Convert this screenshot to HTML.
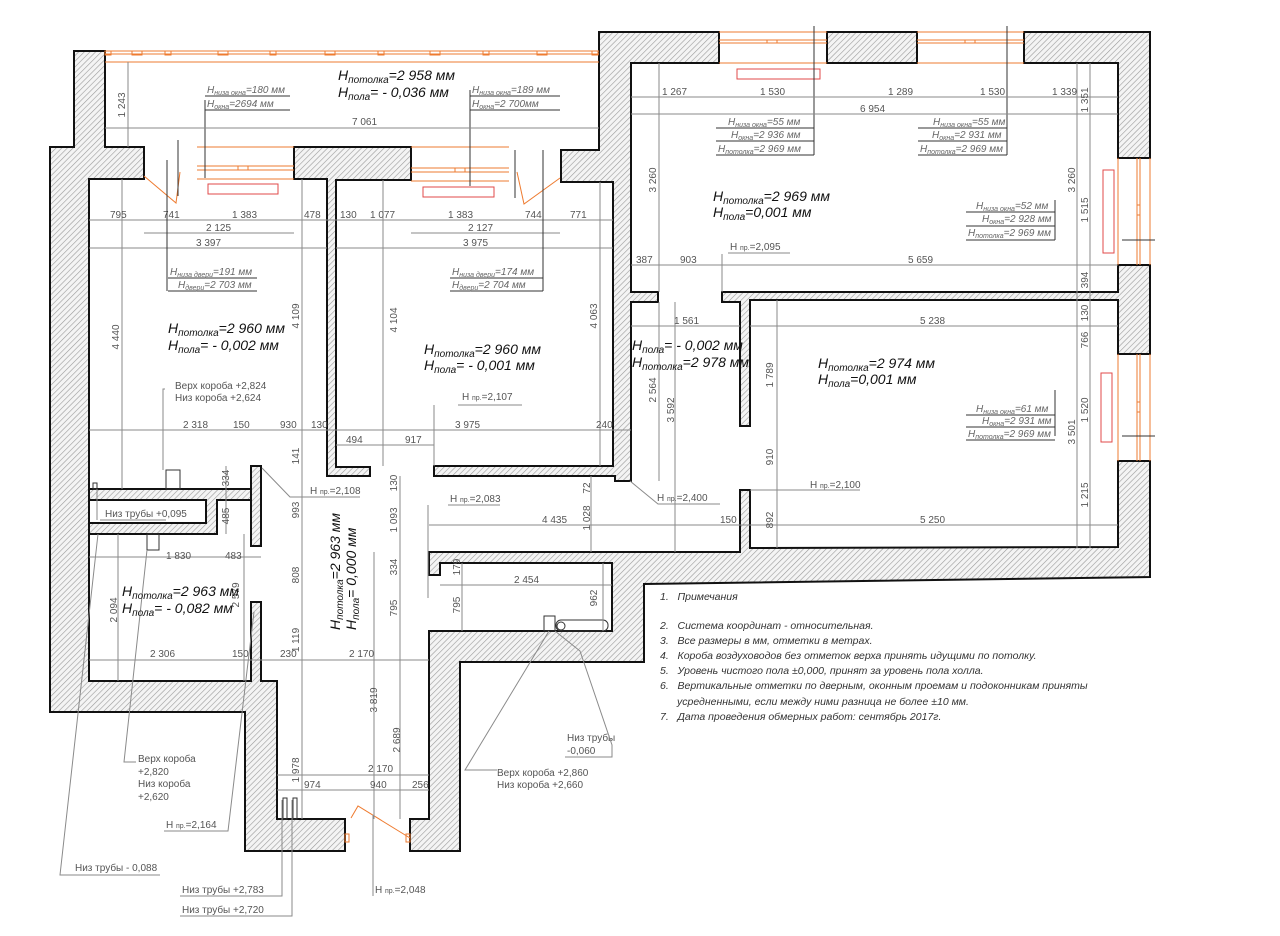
<!DOCTYPE html>
<html><head><meta charset="utf-8"><style>
html,body{margin:0;padding:0;background:#fff;}
svg{display:block;font-family:"Liberation Sans",sans-serif;}
.w{fill:url(#h);stroke:#111;stroke-width:2;stroke-linejoin:miter}
.d{stroke:#8a8a8a;stroke-width:1;fill:none}
.t{font-size:10px;fill:#555}
.l{font-size:10px;fill:#666;font-style:italic}
.b{font-size:14px;fill:#111;font-style:italic}
.o{stroke:#ee7b30;stroke-width:1;fill:none}
.r{stroke:#e04a4a;stroke-width:1;fill:none}
.k{stroke:#333;stroke-width:1;fill:none}
.n{font-size:10.5px;fill:#333;font-style:italic}
</style></head><body>
<svg width="1280" height="936" viewBox="0 0 1280 936" xmlns="http://www.w3.org/2000/svg">
<defs><pattern id="h" width="4" height="4" patternUnits="userSpaceOnUse" patternTransform="rotate(45)"><rect width="4" height="4" fill="#f4f4f4"/><line x1="0" y1="0" x2="0" y2="4" stroke="#9a9a9a" stroke-width="1.2"/></pattern></defs>

<polygon class="w" points="74,51 105,51 105,147 144,147 144,179 89,179 89,681 251,681 251,602 261,602 261,681 277,681 277,819 345,819 345,851 245,851 245,712 50,712 50,147 74,147"/>
<polygon class="w" points="89,489 251,489 251,500 217,500 217,534 89,534 89,523 206,523 206,500 89,500"/>
<rect class="w" x="251" y="466" width="10" height="80"/>
<polygon class="w" points="294,147 411,147 411,180 336,180 336,467 370,467 370,476 327,476 327,179 294,179"/>
<polygon class="w" points="561,150 599,150 599,32 719,32 719,63 631,63 631,292 658,292 658,302 631,302 631,481 615,481 615,476 434,476 434,466 613,466 613,182 561,182"/>
<rect class="w" x="827" y="32" width="90" height="31"/>
<polygon class="w" points="1024,32 1150,32 1150,158 1118,158 1118,63 1024,63"/>
<polygon class="w" points="722,292 1118,292 1118,265 1150,265 1150,354 1118,354 1118,300 750,300 750,426 740,426 740,302 722,302"/>
<polygon class="w" points="1150,461 1150,577 644,584 644,662 460,662 460,851 410,851 410,819 429,819 429,631 612,631 612,563 440,563 440,575 429,575 429,552 740,552 740,490 750,490 750,548 1118,547 1118,461"/>

<g class="o">
<line x1="105" y1="51" x2="599" y2="51"/><line x1="105" y1="54" x2="599" y2="54"/><line x1="105" y1="62" x2="599" y2="62"/>
<rect x="105" y="51" width="6" height="4"/><rect x="132" y="51" width="10" height="4"/><rect x="165" y="51" width="6" height="4"/><rect x="218" y="51" width="10" height="4"/><rect x="270" y="51" width="6" height="4"/><rect x="325" y="51" width="10" height="4"/><rect x="378" y="51" width="6" height="4"/><rect x="430" y="51" width="10" height="4"/><rect x="483" y="51" width="6" height="4"/><rect x="537" y="51" width="10" height="4"/><rect x="592" y="51" width="6" height="4"/>
<line x1="197" y1="147" x2="294" y2="147"/><line x1="197" y1="166" x2="294" y2="166"/><line x1="197" y1="170" x2="294" y2="170"/><line x1="197" y1="179" x2="294" y2="179"/><rect x="238" y="166" width="10" height="4"/>
<line x1="411" y1="147" x2="509" y2="147"/><line x1="411" y1="168" x2="509" y2="168"/><line x1="411" y1="172" x2="509" y2="172"/><line x1="411" y1="181" x2="509" y2="181"/><rect x="455" y="168" width="10" height="4"/>
<line x1="719" y1="32" x2="827" y2="32"/><line x1="719" y1="40" x2="827" y2="40"/><line x1="719" y1="43" x2="827" y2="43"/><line x1="719" y1="63" x2="827" y2="63"/><rect x="767" y="40" width="10" height="3"/>
<line x1="917" y1="32" x2="1024" y2="32"/><line x1="917" y1="40" x2="1024" y2="40"/><line x1="917" y1="43" x2="1024" y2="43"/><line x1="917" y1="63" x2="1024" y2="63"/><rect x="965" y="40" width="10" height="3"/>
<line x1="1118" y1="158" x2="1118" y2="265"/><line x1="1137" y1="158" x2="1137" y2="265"/><line x1="1140" y1="158" x2="1140" y2="265"/><line x1="1150" y1="158" x2="1150" y2="265"/><rect x="1137" y="205" width="3" height="10"/>
<line x1="1118" y1="354" x2="1118" y2="461"/><line x1="1137" y1="354" x2="1137" y2="461"/><line x1="1140" y1="354" x2="1140" y2="461"/><line x1="1150" y1="354" x2="1150" y2="461"/><rect x="1137" y="402" width="3" height="10"/>
<polyline points="144,176 176,203 180,172"/><polyline points="560,178 524,204 517,172"/>
<polyline points="351,818 358,806 410,838"/><rect x="345" y="834" width="4" height="8"/><rect x="406" y="834" width="4" height="8"/>
</g>
<g class="r"><rect x="208" y="184" width="70" height="10"/><rect x="423" y="187" width="71" height="10"/><rect x="737" y="69" width="83" height="10"/><rect x="1103" y="170" width="11" height="83"/><rect x="1101" y="373" width="11" height="69"/></g>

<g class="k"><rect x="166" y="470" width="14" height="19"/><rect x="147" y="534" width="12" height="16"/><rect x="93" y="483" width="4" height="6"/><rect x="544" y="616" width="11" height="15"/><rect x="556" y="620" width="52" height="11" rx="5"/><circle cx="561" cy="626" r="4"/><rect x="283" y="798" width="4" height="21"/><rect x="293" y="798" width="4" height="21"/>
<line x1="178" y1="140" x2="178" y2="196"/><line x1="205" y1="100" x2="205" y2="178"/><line x1="470" y1="90" x2="470" y2="186"/><line x1="515" y1="150" x2="515" y2="198"/>
<line x1="814" y1="26" x2="814" y2="155"/><line x1="1007" y1="26" x2="1007" y2="155"/><line x1="1055" y1="200" x2="1055" y2="240"/><line x1="1055" y1="390" x2="1055" y2="436"/><line x1="1122" y1="240" x2="1155" y2="240"/><line x1="1122" y1="436" x2="1155" y2="436"/>
</g>

<g class="d">
<line x1="128" y1="62" x2="128" y2="147"/><line x1="105" y1="128" x2="599" y2="128"/>
<line x1="89" y1="220" x2="613" y2="220"/><line x1="144" y1="233" x2="294" y2="233"/><line x1="411" y1="233" x2="560" y2="233"/>
<line x1="89" y1="248" x2="327" y2="248"/><line x1="336" y1="248" x2="613" y2="248"/>
<line x1="122" y1="179" x2="122" y2="489"/><line x1="302" y1="179" x2="302" y2="466"/><line x1="383" y1="180" x2="383" y2="466"/><line x1="600" y1="182" x2="600" y2="466"/>
<line x1="89" y1="430" x2="631" y2="430"/><line x1="336" y1="445" x2="434" y2="445"/>
<line x1="631" y1="97" x2="1118" y2="97"/><line x1="631" y1="114" x2="1118" y2="114"/>
<line x1="659" y1="63" x2="659" y2="292"/><line x1="1077" y1="63" x2="1077" y2="300"/><line x1="1090" y1="63" x2="1090" y2="300"/>
<line x1="631" y1="265" x2="1118" y2="265"/><line x1="631" y1="326" x2="740" y2="326"/><line x1="750" y1="326" x2="1118" y2="326"/>
<line x1="659" y1="302" x2="659" y2="481"/><line x1="675" y1="302" x2="675" y2="552"/><line x1="777" y1="300" x2="777" y2="548"/><line x1="1077" y1="300" x2="1077" y2="548"/><line x1="1090" y1="300" x2="1090" y2="548"/>
<line x1="429" y1="525" x2="750" y2="525"/><line x1="750" y1="525" x2="1118" y2="525"/>
<line x1="89" y1="557" x2="261" y2="557"/><line x1="89" y1="660" x2="429" y2="660"/>
<line x1="226" y1="466" x2="226" y2="534"/><line x1="302" y1="466" x2="302" y2="681"/><line x1="400" y1="476" x2="400" y2="819"/><line x1="374" y1="552" x2="374" y2="819"/><line x1="462" y1="563" x2="462" y2="631"/><line x1="591" y1="476" x2="591" y2="552"/><line x1="603" y1="563" x2="603" y2="631"/><line x1="118" y1="534" x2="118" y2="681"/><line x1="244" y1="534" x2="244" y2="681"/><line x1="302" y1="681" x2="302" y2="819"/>
<line x1="440" y1="585" x2="612" y2="585"/><line x1="277" y1="775" x2="429" y2="775"/><line x1="277" y1="790" x2="429" y2="790"/>
</g>

<g class="t">
<text x="352" y="125">7 061</text>
<text transform="rotate(-90 125 105)" x="125" y="105" text-anchor="middle">1 243</text>
<text x="110" y="218">795</text><text x="163" y="218">741</text><text x="232" y="218">1 383</text><text x="304" y="218">478</text><text x="340" y="218">130</text><text x="370" y="218">1 077</text><text x="448" y="218">1 383</text><text x="525" y="218">744</text><text x="570" y="218">771</text>
<text x="206" y="231">2 125</text><text x="468" y="231">2 127</text><text x="196" y="246">3 397</text><text x="463" y="246">3 975</text>
<text transform="rotate(-90 119 337)" x="119" y="337" text-anchor="middle">4 440</text><text transform="rotate(-90 299 316)" x="299" y="316" text-anchor="middle">4 109</text><text transform="rotate(-90 397 320)" x="397" y="320" text-anchor="middle">4 104</text><text transform="rotate(-90 597 316)" x="597" y="316" text-anchor="middle">4 063</text>
<text x="183" y="428">2 318</text><text x="233" y="428">150</text><text x="280" y="428">930</text><text x="311" y="428">130</text><text x="455" y="428">3 975</text><text x="596" y="428">240</text>
<text x="346" y="443">494</text><text x="405" y="443">917</text>
<text x="175" y="389">Верх короба +2,824</text><text x="175" y="401">Низ короба +2,624</text>
<text x="462" y="400">H <tspan font-size="7">пр.</tspan>=2,107</text>
<text x="662" y="95">1 267</text><text x="760" y="95">1 530</text><text x="888" y="95">1 289</text><text x="980" y="95">1 530</text><text x="1052" y="95">1 339</text><text x="860" y="112">6 954</text>
<text transform="rotate(-90 1088 100)" x="1088" y="100" text-anchor="middle">1 351</text><text transform="rotate(-90 656 180)" x="656" y="180" text-anchor="middle">3 260</text><text transform="rotate(-90 1075 180)" x="1075" y="180" text-anchor="middle">3 260</text><text transform="rotate(-90 1088 210)" x="1088" y="210" text-anchor="middle">1 515</text>
<text x="730" y="250">H <tspan font-size="7">пр.</tspan>=2,095</text>
<text x="636" y="263">387</text><text x="680" y="263">903</text><text x="908" y="263">5 659</text>
<text transform="rotate(-90 1088 280)" x="1088" y="280" text-anchor="middle">394</text>
<text x="674" y="324">1 561</text><text x="920" y="324">5 238</text>
<text transform="rotate(-90 1088 313)" x="1088" y="313" text-anchor="middle">130</text><text transform="rotate(-90 1088 340)" x="1088" y="340" text-anchor="middle">766</text>
<text transform="rotate(-90 656 390)" x="656" y="390" text-anchor="middle">2 564</text><text transform="rotate(-90 674 410)" x="674" y="410" text-anchor="middle">3 592</text><text transform="rotate(-90 773 375)" x="773" y="375" text-anchor="middle">1 789</text>
<text transform="rotate(-90 1088 410)" x="1088" y="410" text-anchor="middle">1 520</text><text transform="rotate(-90 1075 432)" x="1075" y="432" text-anchor="middle">3 501</text>
<text transform="rotate(-90 773 457)" x="773" y="457" text-anchor="middle">910</text><text transform="rotate(-90 1088 495)" x="1088" y="495" text-anchor="middle">1 215</text><text transform="rotate(-90 773 520)" x="773" y="520" text-anchor="middle">892</text>
<text x="810" y="488">H <tspan font-size="7">пр.</tspan>=2,100</text><text x="657" y="501">H <tspan font-size="7">пр.</tspan>=2,400</text>
<text x="920" y="523">5 250</text><text x="720" y="523">150</text><text x="542" y="523">4 435</text>
<text x="310" y="494">H <tspan font-size="7">пр.</tspan>=2,108</text><text x="450" y="502">H <tspan font-size="7">пр.</tspan>=2,083</text>
<text transform="rotate(-90 229 478)" x="229" y="478" text-anchor="middle">334</text><text transform="rotate(-90 299 456)" x="299" y="456" text-anchor="middle">141</text><text transform="rotate(-90 299 510)" x="299" y="510" text-anchor="middle">993</text>
<text transform="rotate(-90 397 483)" x="397" y="483" text-anchor="middle">130</text><text transform="rotate(-90 397 520)" x="397" y="520" text-anchor="middle">1 093</text><text transform="rotate(-90 590 488)" x="590" y="488" text-anchor="middle">72</text><text transform="rotate(-90 590 518)" x="590" y="518" text-anchor="middle">1 028</text>
<text transform="rotate(-90 229 516)" x="229" y="516" text-anchor="middle">485</text>
<text x="105" y="517">Низ трубы +0,095</text>
<text x="166" y="559">1 830</text><text x="225" y="559">483</text>
<text transform="rotate(-90 117 610)" x="117" y="610" text-anchor="middle">2 094</text><text transform="rotate(-90 239 595)" x="239" y="595" text-anchor="middle">2 579</text><text transform="rotate(-90 299 575)" x="299" y="575" text-anchor="middle">808</text><text transform="rotate(-90 299 640)" x="299" y="640" text-anchor="middle">1 119</text>
<text transform="rotate(-90 397 567)" x="397" y="567" text-anchor="middle">334</text><text transform="rotate(-90 460 567)" x="460" y="567" text-anchor="middle">179</text><text transform="rotate(-90 397 608)" x="397" y="608" text-anchor="middle">795</text><text transform="rotate(-90 460 605)" x="460" y="605" text-anchor="middle">795</text><text transform="rotate(-90 597 598)" x="597" y="598" text-anchor="middle">962</text>
<text x="514" y="583">2 454</text>
<text x="150" y="657">2 306</text><text x="232" y="657">150</text><text x="280" y="657">230</text><text x="349" y="657">2 170</text>
<text transform="rotate(-90 377 700)" x="377" y="700" text-anchor="middle">3 819</text><text transform="rotate(-90 400 740)" x="400" y="740" text-anchor="middle">2 689</text><text transform="rotate(-90 299 770)" x="299" y="770" text-anchor="middle">1 978</text>
<text x="368" y="772">2 170</text><text x="304" y="788">974</text><text x="370" y="788">940</text><text x="412" y="788">256</text>
<text x="567" y="741">Низ трубы</text><text x="567" y="754">-0,060</text>
<text x="497" y="776">Верх короба +2,860</text><text x="497" y="788">Низ короба +2,660</text>
<text x="138" y="762">Верх короба</text><text x="138" y="775">+2,820</text><text x="138" y="787">Низ короба</text><text x="138" y="800">+2,620</text>
<text x="166" y="828">H <tspan font-size="7">пр.</tspan>=2,164</text><text x="75" y="871">Низ трубы - 0,088</text>
<text x="182" y="893">Низ трубы +2,783</text><text x="182" y="913">Низ трубы +2,720</text><text x="375" y="893">H <tspan font-size="7">пр.</tspan>=2,048</text>
</g>
<g class="d" stroke="#777">
<polyline points="165,389 163,389 163,470"/><polyline points="434,405 434,466"/><polyline points="722,254 722,292"/>
<polyline points="458,405 522,405"/><polyline points="728,253 790,253"/><polyline points="808,490 860,490 750,490"/><polyline points="720,504 658,504 630,481"/><polyline points="308,497 360,497 290,497 262,468"/>
<polyline points="428,505 428,598"/><polyline points="448,505 500,505"/>
<polyline points="100,520 166,520"/><polyline points="97,520 97,489"/>
<polyline points="565,757 612,757 612,745 580,651 555,631"/><polyline points="497,770 465,770 549,631"/>
<polyline points="136,762 124,762 147,550"/><polyline points="164,831 228,831 254,612"/><polyline points="160,875 60,875 98,534"/>
<polyline points="180,896 282,896 282,800"/><polyline points="180,916 292,916 292,800"/><polyline points="373,896 373,815"/>
</g>
<g class="k">
<line x1="168" y1="278" x2="257" y2="278"/><line x1="168" y1="291" x2="257" y2="291"/><line x1="167" y1="160" x2="167" y2="291"/>
<line x1="450" y1="278" x2="543" y2="278"/><line x1="450" y1="291" x2="543" y2="291"/><line x1="543" y1="150" x2="543" y2="291"/>
<line x1="205" y1="96" x2="290" y2="96"/><line x1="205" y1="110" x2="290" y2="110"/>
<line x1="470" y1="96" x2="560" y2="96"/><line x1="470" y1="110" x2="560" y2="110"/>
<line x1="716" y1="128" x2="814" y2="128"/><line x1="716" y1="141" x2="814" y2="141"/><line x1="716" y1="155" x2="814" y2="155"/>
<line x1="918" y1="128" x2="1007" y2="128"/><line x1="918" y1="141" x2="1007" y2="141"/><line x1="918" y1="155" x2="1007" y2="155"/>
<line x1="966" y1="212" x2="1055" y2="212"/><line x1="966" y1="226" x2="1055" y2="226"/><line x1="966" y1="240" x2="1055" y2="240"/>
<line x1="966" y1="415" x2="1055" y2="415"/><line x1="966" y1="427" x2="1055" y2="427"/><line x1="966" y1="440" x2="1055" y2="440"/>
</g>
<g class="l">
<text x="207" y="93">H<tspan font-size="7" dy="2">низа окна</tspan><tspan dy="-2">=180 мм</tspan></text><text x="207" y="107">H<tspan font-size="7" dy="2">окна</tspan><tspan dy="-2">=2694 мм</tspan></text>
<text x="472" y="93">H<tspan font-size="7" dy="2">низа окна</tspan><tspan dy="-2">=189 мм</tspan></text><text x="472" y="107">H<tspan font-size="7" dy="2">окна</tspan><tspan dy="-2">=2 700мм</tspan></text>
<text x="170" y="275">H<tspan font-size="7" dy="2">низа двери</tspan><tspan dy="-2">=191 мм</tspan></text><text x="178" y="288">H<tspan font-size="7" dy="2">двери</tspan><tspan dy="-2">=2 703 мм</tspan></text>
<text x="452" y="275">H<tspan font-size="7" dy="2">низа двери</tspan><tspan dy="-2">=174 мм</tspan></text><text x="452" y="288">H<tspan font-size="7" dy="2">двери</tspan><tspan dy="-2">=2 704 мм</tspan></text>
<text x="728" y="125">H<tspan font-size="7" dy="2">низа окна</tspan><tspan dy="-2">=55 мм</tspan></text><text x="731" y="138">H<tspan font-size="7" dy="2">окна</tspan><tspan dy="-2">=2 936 мм</tspan></text><text x="718" y="152">H<tspan font-size="7" dy="2">потолка</tspan><tspan dy="-2">=2 969 мм</tspan></text>
<text x="933" y="125">H<tspan font-size="7" dy="2">низа окна</tspan><tspan dy="-2">=55 мм</tspan></text><text x="932" y="138">H<tspan font-size="7" dy="2">окна</tspan><tspan dy="-2">=2 931 мм</tspan></text><text x="920" y="152">H<tspan font-size="7" dy="2">потолка</tspan><tspan dy="-2">=2 969 мм</tspan></text>
<text x="976" y="209">H<tspan font-size="7" dy="2">низа окна</tspan><tspan dy="-2">=52 мм</tspan></text><text x="982" y="222">H<tspan font-size="7" dy="2">окна</tspan><tspan dy="-2">=2 928 мм</tspan></text><text x="968" y="236">H<tspan font-size="7" dy="2">потолка</tspan><tspan dy="-2">=2 969 мм</tspan></text>
<text x="976" y="412">H<tspan font-size="7" dy="2">низа окна</tspan><tspan dy="-2">=61 мм</tspan></text><text x="982" y="424">H<tspan font-size="7" dy="2">окна</tspan><tspan dy="-2">=2 931 мм</tspan></text><text x="968" y="437">H<tspan font-size="7" dy="2">потолка</tspan><tspan dy="-2">=2 969 мм</tspan></text>
</g>
<g class="b">
<text x="338" y="80">H<tspan font-size="10" dy="3">потолка</tspan><tspan dy="-3">=2 958 мм</tspan></text><text x="338" y="97">H<tspan font-size="10" dy="3">пола</tspan><tspan dy="-3">= - 0,036 мм</tspan></text>
<text x="168" y="333">H<tspan font-size="10" dy="3">потолка</tspan><tspan dy="-3">=2 960 мм</tspan></text><text x="168" y="350">H<tspan font-size="10" dy="3">пола</tspan><tspan dy="-3">= - 0,002 мм</tspan></text>
<text x="424" y="354">H<tspan font-size="10" dy="3">потолка</tspan><tspan dy="-3">=2 960 мм</tspan></text><text x="424" y="370">H<tspan font-size="10" dy="3">пола</tspan><tspan dy="-3">= - 0,001 мм</tspan></text>
<text x="713" y="201">H<tspan font-size="10" dy="3">потолка</tspan><tspan dy="-3">=2 969 мм</tspan></text><text x="713" y="217">H<tspan font-size="10" dy="3">пола</tspan><tspan dy="-3">=0,001 мм</tspan></text>
<text x="632" y="350">H<tspan font-size="10" dy="3">пола</tspan><tspan dy="-3">= - 0,002 мм</tspan></text><text x="632" y="367">H<tspan font-size="10" dy="3">потолка</tspan><tspan dy="-3">=2 978 мм</tspan></text>
<text x="818" y="368">H<tspan font-size="10" dy="3">потолка</tspan><tspan dy="-3">=2 974 мм</tspan></text><text x="818" y="384">H<tspan font-size="10" dy="3">пола</tspan><tspan dy="-3">=0,001 мм</tspan></text>
<text x="122" y="596">H<tspan font-size="10" dy="3">потолка</tspan><tspan dy="-3">=2 963 мм</tspan></text><text x="122" y="613">H<tspan font-size="10" dy="3">пола</tspan><tspan dy="-3">= - 0,082 мм</tspan></text>
<text transform="rotate(-90 340 630)" x="340" y="630">H<tspan font-size="10" dy="3">потолка</tspan><tspan dy="-3">=2 963 мм</tspan></text>
<text transform="rotate(-90 356 630)" x="356" y="630">H<tspan font-size="10" dy="3">пола</tspan><tspan dy="-3">= 0,000 мм</tspan></text>
</g>
<g class="n">
<text x="660" y="600">1.&#160;&#160;&#160;Примечания</text>
<text x="660" y="629">2.&#160;&#160;&#160;Система координат - относительная.</text>
<text x="660" y="644">3.&#160;&#160;&#160;Все размеры в мм, отметки в метрах.</text>
<text x="660" y="659">4.&#160;&#160;&#160;Короба воздуховодов без отметок верха принять идущими по потолку.</text>
<text x="660" y="674">5.&#160;&#160;&#160;Уровень чистого пола ±0,000, принят за уровень пола холла.</text>
<text x="660" y="689">6.&#160;&#160;&#160;Вертикальные отметки по дверным, оконным проемам и подоконникам приняты</text>
<text x="677" y="705">усредненными, если между ними разница не более ±10 мм.</text>
<text x="660" y="720">7.&#160;&#160;&#160;Дата проведения обмерных работ: сентябрь 2017г.</text>
</g>
</svg>
</body></html>
